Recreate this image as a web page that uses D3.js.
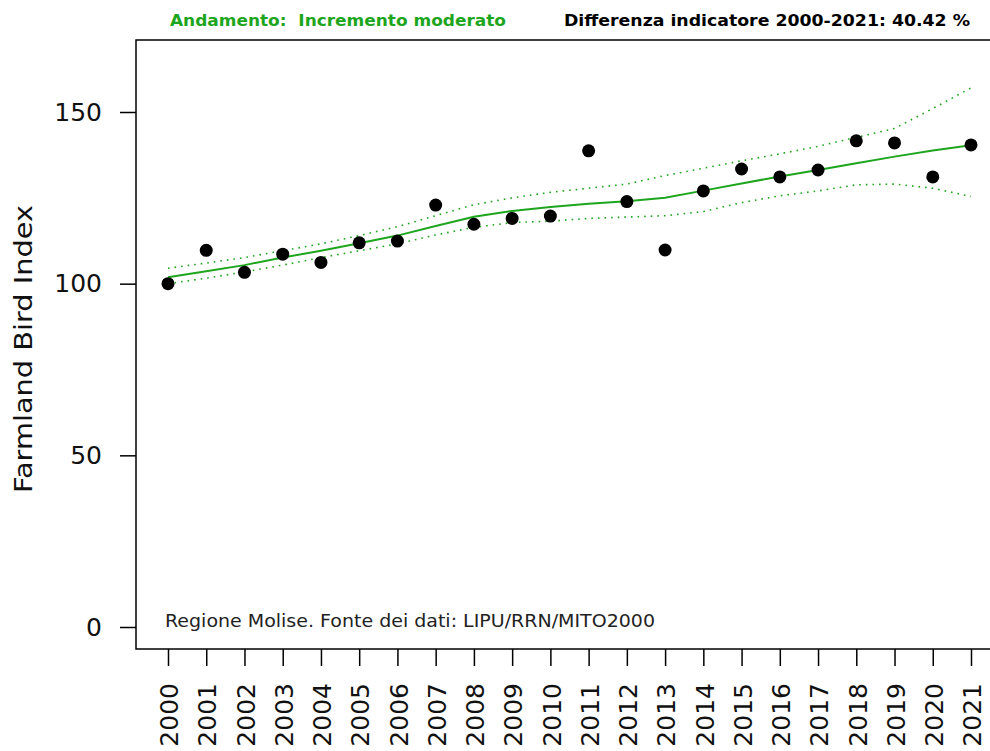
<!DOCTYPE html>
<html>
<head>
<meta charset="utf-8">
<script src="https://cdn.jsdelivr.net/npm/d3@7"></script>
<style>
  body { margin: 0; background: #fff; }
  svg { display: block; }
</style>
</head>
<body>
<svg id="chart" width="990" height="751"></svg>
<script>
var years = d3.range(2000, 2022);
var index = [100.0, 109.7, 103.3, 108.6, 106.2, 111.9, 112.4, 122.9, 117.3, 119.0, 119.7, 138.7,
             123.9, 109.8, 127.0, 133.4, 131.1, 133.1, 141.6, 141.0, 131.1, 140.42];
var trend = [101.9, 103.6, 105.4, 107.6, 109.6, 111.8, 114.0, 116.8, 119.5, 121.2, 122.3, 123.3,
             124.0, 125.0, 127.1, 129.2, 131.2, 133.1, 135.1, 137.0, 138.8, 140.3];
var upper = [104.5, 106.0, 107.6, 109.6, 111.6, 114.0, 116.6, 119.8, 123.0, 125.0, 126.6, 127.8,
             129.0, 131.5, 133.6, 135.8, 137.8, 140.0, 142.6, 145.2, 151.0, 157.0];
var lower = [100.0, 101.6, 103.4, 105.4, 107.6, 109.6, 111.6, 114.2, 116.4, 117.8, 118.2, 119.0,
             119.4, 119.8, 121.0, 123.6, 125.6, 127.0, 128.8, 129.0, 127.8, 125.4];
var yTicks = [0, 50, 100, 150];

var green = "#1ea51e";
var svg = d3.select("#chart");

var x = d3.scaleLinear().domain([2000, 2021]).range([168, 971]);
var y = d3.scaleLinear().domain([0, 150]).range([627, 112]);

// plot frame
svg.append("rect")
    .attr("x", 136).attr("y", 40)
    .attr("width", 860).attr("height", 609)
    .attr("fill", "none").attr("stroke", "#000").attr("stroke-width", 1.5);

// y axis
var yAxis = svg.append("g")
    .attr("transform", "translate(136,0)")
    .call(d3.axisLeft(y).tickValues(yTicks).tickSize(16).tickPadding(18));
yAxis.select(".domain").remove();
yAxis.selectAll("line").attr("stroke-width", 1.5);
yAxis.selectAll("text")
    .style("font", "25px 'DejaVu Sans'").attr("fill", "#111");

// x axis
var xAxis = svg.append("g")
    .attr("transform", "translate(0,649)")
    .call(d3.axisBottom(x).tickValues(years).tickSize(17).tickFormat(d3.format("d")));
xAxis.select(".domain").remove();
xAxis.selectAll("line").attr("stroke-width", 1.5);
xAxis.selectAll("text")
    .attr("transform", "translate(1,34) rotate(-90)")
    .attr("x", 0).attr("y", 0).attr("dy", "0.35em")
    .attr("text-anchor", "end")
    .style("font", "25px 'DejaVu Sans'").attr("fill", "#111");

// y axis title
svg.append("text")
    .attr("transform", "translate(32,349) rotate(-90)")
    .attr("text-anchor", "middle")
    .attr("textLength", 288).attr("lengthAdjust", "spacingAndGlyphs")
    .style("font", "25px 'DejaVu Sans'").attr("fill", "#111")
    .text("Farmland Bird Index");

// confidence band and trend
var line = d3.line()
    .x(function(d, i) { return x(years[i]); })
    .y(function(d) { return y(d); });

[upper, lower].forEach(function(s) {
  svg.append("path")
      .attr("d", line(s))
      .attr("fill", "none")
      .attr("stroke", green)
      .attr("stroke-width", 1.6)
      .attr("stroke-dasharray", "1.6,5");
});

svg.append("path")
    .attr("d", line(trend))
    .attr("fill", "none")
    .attr("stroke", green)
    .attr("stroke-width", 2);

// points
svg.selectAll(".pt")
    .data(index)
  .enter().append("circle")
    .attr("class", "pt")
    .attr("cx", function(d, i) { return x(years[i]); })
    .attr("cy", function(d) { return y(d); })
    .attr("r", 6.5)
    .attr("fill", "#000");

// header texts
svg.append("text")
    .attr("x", 170).attr("y", 26)
    .attr("textLength", 336).attr("lengthAdjust", "spacingAndGlyphs")
    .style("font", "bold 16px 'DejaVu Sans'")
    .attr("fill", green)
    .attr("xml:space", "preserve")
    .text("Andamento:  Incremento moderato");

svg.append("text")
    .attr("x", 564).attr("y", 26)
    .attr("textLength", 406).attr("lengthAdjust", "spacingAndGlyphs")
    .style("font", "bold 16px 'DejaVu Sans'")
    .attr("fill", "#000")
    .text("Differenza indicatore 2000-2021: 40.42 %");

// source note
svg.append("text")
    .attr("x", 165).attr("y", 627)
    .attr("textLength", 490).attr("lengthAdjust", "spacingAndGlyphs")
    .style("font", "18px 'DejaVu Sans'")
    .attr("fill", "#222")
    .text("Regione Molise. Fonte dei dati: LIPU/RRN/MITO2000");
</script>
</body>
</html>
